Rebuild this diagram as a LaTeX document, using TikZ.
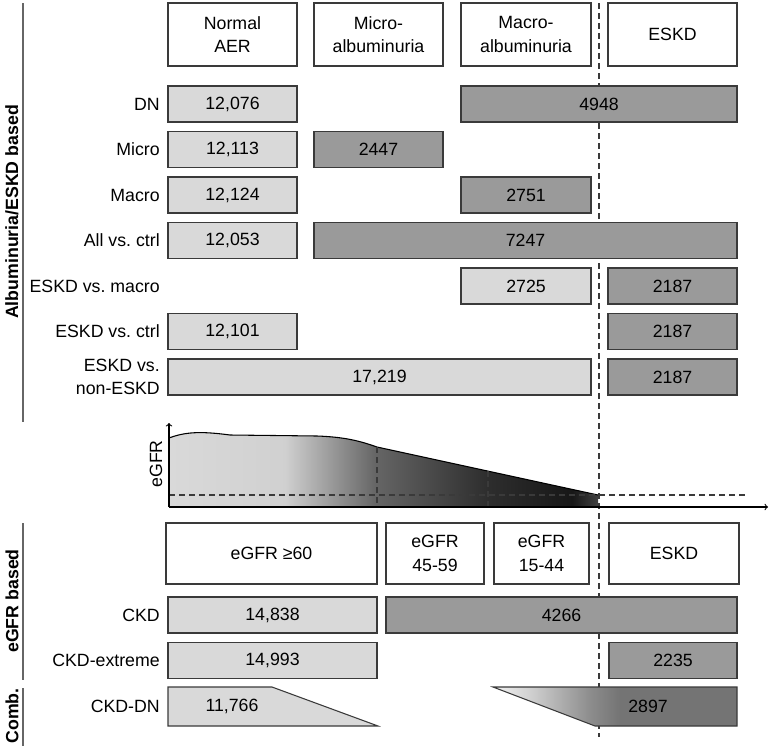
\documentclass[tikz,border=0pt]{standalone}
\usepackage{fontspec}
\setmainfont{Liberation Sans}
\usepackage{xcolor}
\definecolor{box-edge}{HTML}{3A3A3A}
\definecolor{light-fill}{HTML}{D9D9D9}
\definecolor{dark-fill}{HTML}{9A9A9A}
\definecolor{deep-fill}{HTML}{747474}
% shadings fill the path box between 25bp and 75bp
\pgfdeclarehorizontalshading{egfr-fall}{100bp}{color(0bp)=(light-fill); color(25bp)=(light-fill);
  color(38.5bp)=(light-fill!96!black); color(49bp)=(black!60); color(62bp)=(black!82);
  color(72bp)=(black!91); color(75bp)=(black!75); color(100bp)=(black!75)}
\pgfdeclarehorizontalshading{ckd-fade}{100bp}{color(0bp)=(black!5); color(25bp)=(black!5);
  color(32bp)=(black!17); color(45bp)=(black!45); color(51bp)=(deep-fill); color(100bp)=(deep-fill)}
% one box from x1 to x2, y1 to y2 (picture pixels)
\newcommand{\cellbox}[7]{%
  \node[#1, minimum width={(#4-#3)*0.75pt}, minimum height={(#6-#5)*0.75pt}]
        (#2) at ({(#3+#4)/2},{(#5+#6)/2}) {#7};}

\begin{document}
\begin{tikzpicture}[x=0.75pt, y=-0.75pt,
      every node/.style={font=\fontsize{13.3}{17.5}\selectfont},
      cell/.style={draw=box-edge, line width=0.8pt, inner sep=0pt, outer sep=0pt, align=center},
      headcell/.style={cell, fill=white},
      litecell/.style={cell, fill=light-fill},
      darkcell/.style={cell, fill=dark-fill},
      rowlbl/.style={anchor=east, align=right, inner sep=0pt},
      sidelbl/.style={rotate=90, font=\fontsize{13.3}{16}\selectfont\bfseries},
      guide/.style={draw=box-edge, line width=0.8pt, dash pattern=on 4.5pt off 3pt}]
    \useasboundingbox (0,0) rectangle (771,746);

    % group brackets on the left
    \draw[black!60, line width=0.9pt] (23,3) -- (23,422);
    \draw[black!60, line width=0.9pt] (23,523) -- (23,680);
    \draw[black!60, line width=0.9pt] (23,688) -- (23,746);
    \node[sidelbl] (gAlb) at (12,212) {Albuminuria/ESKD based};
    \node[sidelbl] (gEgfr) at (12,601) {eGFR based};
    \node[sidelbl] (gComb) at (12,716) {Comb.};

    % ESKD threshold, behind the boxes
    \coordinate (tTop) at (599,3);
    \coordinate (tBot) at (599,737);
    \draw[guide] (tTop) -- (tBot);

    % albuminuria stages
    \cellbox{headcell}{hNorm}{168}{297}{3}{66}{Normal\\AER}
    \cellbox{headcell}{hMicro}{314}{443}{3}{66}{Micro-\\albuminuria}
    \cellbox{headcell}{hMacro}{461}{591}{3}{66}{Macro-\\albuminuria}
    \cellbox{headcell}{hEskd}{608}{737}{3}{66}{ESKD}

    \foreach \lbl [count=\i] in {DN, Micro, Macro, All vs.\ ctrl, ESKD vs.\ macro,
                                 ESKD vs.\ ctrl, {ESKD vs.\\non-ESKD}} {
      \node[rowlbl] (row\i) at (160,{104+45.5*(\i-1)}) {\lbl};
    }

    \cellbox{litecell}{dnA}{168}{297}{86}{122}{12,076}
    \cellbox{darkcell}{dnB}{461}{737}{86}{122}{4948}
    \cellbox{litecell}{miA}{168}{297}{131.5}{167.5}{12,113}
    \cellbox{darkcell}{miB}{314}{443}{131.5}{167.5}{2447}
    \cellbox{litecell}{maA}{168}{297}{177}{213}{12,124}
    \cellbox{darkcell}{maB}{461}{591}{177}{213}{2751}
    \cellbox{litecell}{alA}{168}{297}{222.5}{258.5}{12,053}
    \cellbox{darkcell}{alB}{314}{737}{222.5}{258.5}{7247}
    \cellbox{litecell}{emA}{461}{591}{268}{304}{2725}
    \cellbox{darkcell}{emB}{608}{737}{268}{304}{2187}
    \cellbox{litecell}{ecA}{168}{297}{313.5}{349.5}{12,101}
    \cellbox{darkcell}{ecB}{608}{737}{313.5}{349.5}{2187}
    \cellbox{litecell}{enA}{168}{591}{359}{395}{17,219}
    \cellbox{darkcell}{enB}{608}{737}{359}{395}{2187}

    % eGFR decline sketch
    \coordinate (o) at (169,507);
    \coordinate (yTip) at (169,423);
    \coordinate (xTip) at (768,507);
    \shade[shading=egfr-fall] (o) -- (169,438)
        .. controls (185,432) and (200,431) .. (230,435)
        -- (317,436) .. controls (345,437) and (360,441) .. (377,447)
        -- (598,495) -- (598,507) -- cycle;
    \draw[line width=0.8pt] (169,438)
        .. controls (185,432) and (200,431) .. (230,435)
        -- (317,436) .. controls (345,437) and (360,441) .. (377,447)
        -- (598,495);
    \draw[guide] (169,495) -- (748,495);
    \draw[guide] (377,447) -- (377,507);
    \draw[guide] (488,471) -- (488,507);
    \draw[->, line width=0.8pt] (o) -- (yTip);
    \draw[->, line width=0.8pt] (o) -- (xTip);
    \node[rotate=90] (yLbl) at (156,464) {eGFR};

    % eGFR stages
    \cellbox{headcell}{h60}{166}{377}{523}{584}{eGFR ≥60}
    \cellbox{headcell}{h45}{386}{484}{523}{584}{eGFR\\45-59}
    \cellbox{headcell}{h15}{494}{589}{523}{584}{eGFR\\15-44}
    \cellbox{headcell}{hEnd}{609}{739}{523}{584}{ESKD}

    \node[rowlbl] (rowCkd) at (160,615) {CKD};
    \node[rowlbl] (rowExt) at (160,660.5) {CKD-extreme};
    \node[rowlbl] (rowCdn) at (160,706.5) {CKD-DN};

    \cellbox{litecell}{ckA}{168}{377}{597}{633}{14,838}
    \cellbox{darkcell}{ckB}{386}{737}{597}{633}{4266}
    \cellbox{litecell}{exA}{168}{377}{642.5}{678.5}{14,993}
    \cellbox{darkcell}{exB}{609}{737}{642.5}{678.5}{2235}

    % combined: sloped ends
    \draw[cell, fill=light-fill] (168,687) -- (272,687) -- (378,726) -- (168,726) -- cycle;
    \node (cdA) at (232,706.5) {11,766};
    \shade[shading=ckd-fade] (493,687) -- (737,687) -- (737,726) -- (595,726) -- cycle;
    \draw[cell] (493,687) -- (737,687) -- (737,726) -- (595,726) -- cycle;
    \node (cdB) at (648,706.5) {2897};
\end{tikzpicture}
\end{document}
